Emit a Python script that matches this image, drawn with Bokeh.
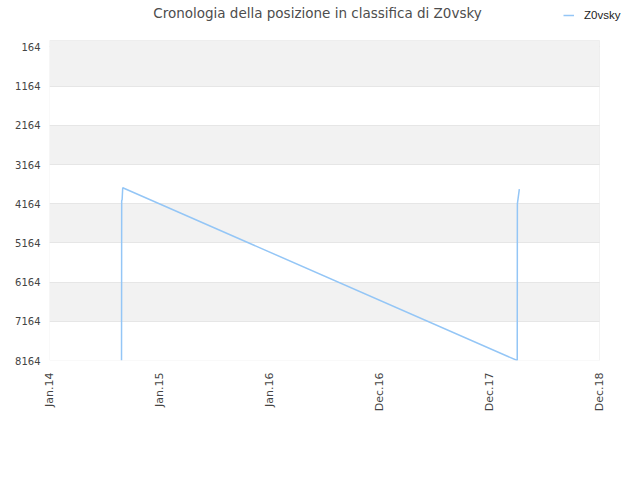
import pandas as pd
from bokeh.plotting import figure
from bokeh.models import Range1d, FixedTicker, Legend, LegendItem, BoxAnnotation, Label
from bokeh.embed import file_html
from bokeh.resources import INLINE

# ---- data ----
dates = ["2014-08-28 00:00", "2014-08-28 12:00", "2014-08-30 00:00", "2014-09-01 00:00",
         "2018-04-02 00:00", "2018-04-02 12:00", "2018-04-09 00:00"]
ranks = [8164, 4090, 4060, 3757, 8164, 4166, 3790]
series_name = "Z0vsky"

y_ticks = [164, 1164, 2164, 3164, 4164, 5164, 6164, 7164, 8164]
x_tick_dates = ["2014-01-01", "2015-01-01", "2016-01-01", "2016-12-31", "2017-12-31", "2018-12-31"]
x_tick_labels = ["Jan.14", "Jan.15", "Jan.16", "Dec.16", "Dec.17", "Dec.18"]
title_text = "Cronologia della posizione in classifica di Z0vsky"

LINE_COLOR = "#94c6f6"

# ---- layout constants (pixels) ----
BOX_W, BOX_H = 550, 320      # plotting box
HEADER_H = 40                # space above the box for title + legend
RIGHT_EXTRA = 32             # space right of the box for the legend text

x0 = pd.Timestamp(x_tick_dates[0])
x1 = pd.Timestamp(x_tick_dates[-1])
x_end = x1 + (x1 - x0) * (RIGHT_EXTRA / BOX_W)
y_top = 0
y_bot = y_ticks[-1]
y_end = y_top - (y_bot - y_top) * (HEADER_H / BOX_H)

x = pd.to_datetime(dates)
tick_ms = [int(pd.Timestamp(d).value // 10**6) for d in x_tick_dates]

p = figure(x_axis_type="datetime", output_backend="svg", toolbar_location=None,
           frame_width=BOX_W + RIGHT_EXTRA, frame_height=BOX_H + HEADER_H,
           min_border_left=0, min_border_right=0, min_border_top=0, min_border_bottom=105,
           margin=(0, 0, 0, 6),
           x_range=Range1d(x0, x_end), y_range=Range1d(y_bot, y_end))
p.background_fill_color = "white"
p.border_fill_color = "white"
p.outline_line_color = None

r = p.line(x, ranks, line_color=LINE_COLOR, line_width=1.5)

# grid + bands, limited to the plotting box
p.xgrid.grid_line_color = None
p.ygrid.ticker = FixedTicker(ticks=y_ticks)
p.ygrid.cross_bounds = (tick_ms[0], tick_ms[-1])
p.ygrid.grid_line_color = "#e6e6e6"
p.ygrid.band_fill_color = "#f2f2f2"
p.ygrid.band_fill_alpha = 1.0
p.add_layout(BoxAnnotation(top=y_top, bottom=y_ticks[0], left=x0, right=x1,
                           fill_color="#f2f2f2", fill_alpha=1.0, line_color=None,
                           level="underlay"))
# plot box outline
p.add_layout(BoxAnnotation(top=y_top, bottom=y_bot, left=x0, right=x1,
                           fill_alpha=0, line_color="#d8d8d8", line_width=1))

# axes
p.yaxis.ticker = FixedTicker(ticks=y_ticks)
p.yaxis.axis_line_color = None
p.yaxis.major_tick_line_color = None
p.yaxis.minor_tick_line_color = None
p.yaxis.major_tick_out = 0
p.yaxis.major_tick_in = 0
p.yaxis.major_label_standoff = 9
p.yaxis.major_label_text_font = "DejaVu Sans"
p.yaxis.major_label_text_font_size = "10px"
p.yaxis.major_label_text_color = "#444444"
# blank axis label used only as left padding
p.yaxis.axis_label = " "
p.yaxis.axis_label_text_font_size = "2px"
p.yaxis.axis_label_standoff = 0

p.xaxis.ticker = FixedTicker(ticks=tick_ms)
p.xaxis.major_label_overrides = {t: l for t, l in zip(tick_ms, x_tick_labels)}
p.xaxis.major_label_orientation = 3.14159265 / 2
p.xaxis.axis_line_color = None
p.xaxis.major_tick_line_color = None
p.xaxis.minor_tick_line_color = None
p.xaxis.major_tick_out = 0
p.xaxis.major_tick_in = 0
p.xaxis.major_label_standoff = 12
p.xaxis.major_label_text_font = "DejaVu Sans"
p.xaxis.major_label_text_font_size = "11px"
p.xaxis.major_label_text_color = "#444444"

# title
p.add_layout(Label(x=268, y=BOX_H + HEADER_H - 12, x_units="screen", y_units="screen",
                   text=title_text, text_align="center", text_baseline="middle",
                   text_font="DejaVu Sans", text_font_size="13.5px",
                   text_color="#4d4d4d"))

# legend
legend = Legend(items=[LegendItem(label=series_name, renderers=[r])],
                location=(514, BOX_H + HEADER_H - 21), orientation="horizontal",
                background_fill_alpha=0, border_line_color=None,
                label_text_font="Liberation Sans", label_text_font_size="11.5px",
                label_text_color="#222222", glyph_width=11, glyph_height=12,
                label_height=12, label_standoff=10, padding=0, margin=0)
p.add_layout(legend, "center")

open("out.html", "w").write(file_html(p, INLINE))
